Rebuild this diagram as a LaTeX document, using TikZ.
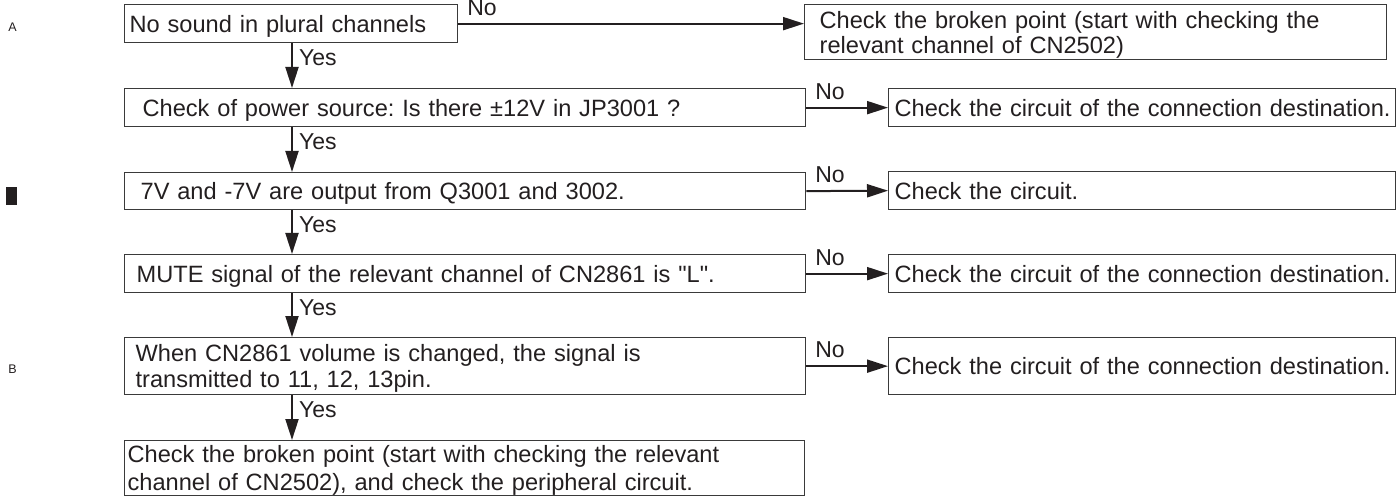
\documentclass[tikz,border=0pt]{standalone}
\usepackage{fontspec}
\setmainfont{Liberation Sans}[Ligatures=TeXOff]
\usetikzlibrary{arrows.meta}
\definecolor{ink}{HTML}{231F20}
\definecolor{edge}{HTML}{3A3A3A}
\newcommand\myln[2]{\hspace*{#1bp}\mbox{#2}}
\frenchspacing
\begin{document}
\begin{tikzpicture}[x=1bp,y=-1bp,
  box/.style={draw=edge, line width=1.3bp, anchor=north west, inner xsep=0pt, inner ysep=0pt,
    align=left, text=ink, font=\fontsize{23.6bp}{25bp}\selectfont\frenchspacing, text height=16.9bp, text depth=0bp},
  arr/.style={draw=ink, line width=2bp, -{Triangle[length=21bp,width=13bp]}},
  lbl/.style={text=ink, inner sep=0pt, font=\fontsize{23bp}{23bp}\selectfont},
  side/.style={text=ink, inner sep=0pt, font=\fontsize{12.5bp}{13bp}\selectfont},
]
\useasboundingbox (0,0) rectangle (1397,497);

% left side marks
\node[side] (markA) at (12.5,27.5) {A};
\fill[ink] (6,187) rectangle (17,205);
\node[side] (markB) at (12.5,369.5) {B};

% main column
\node[box, minimum width=333bp, minimum height=38bp, text width=333bp] (r1) at (124,4)
  {\myln{5}{No sound in plural channels}};
\node[box, minimum width=681bp, minimum height=38bp, text width=681bp] (r2) at (124,88)
  {\myln{18}{Check of power source: Is there ±12V in JP3001 ?}};
\node[box, minimum width=681bp, minimum height=37bp, text width=681bp] (r3) at (124,172)
  {\myln{16}{7V and -7V are output from Q3001 and 3002.}};
\node[box, minimum width=681bp, minimum height=38bp, text width=681bp] (r4) at (124,254)
  {\myln{12}{MUTE signal of the relevant channel of CN2861 is "L".}};
\node[box, minimum width=681bp, minimum height=57bp, text width=681bp,
  font=\fontsize{23.6bp}{26bp}\selectfont, text depth=26bp] (r5) at (124,337)
  {\myln{11}{When CN2861 volume is changed, the signal is}\\\myln{11}{transmitted to 11, 12, 13pin.}};
\node[box, minimum width=680bp, minimum height=55bp, text width=680bp,
  font=\fontsize{23.6bp}{28.5bp}\selectfont, text depth=28.5bp] (r6) at (124,440)
  {\myln{3}{Check the broken point (start with checking the relevant}\\\myln{3}{channel of CN2502), and check the peripheral circuit.}};

% right column
\node[box, minimum width=582bp, minimum height=55bp, text width=582bp, text depth=25bp] (b1) at (804,4)
  {\myln{15}{Check the broken point (start with checking the}\\\myln{15}{relevant channel of CN2502)}};
\node[box, minimum width=507bp, minimum height=38bp, text width=507bp] (b2) at (888,88)
  {\myln{6}{Check the circuit of the connection destination.}};
\node[box, minimum width=507bp, minimum height=38bp, text width=507bp] (b3) at (888,171)
  {\myln{6}{Check the circuit.}};
\node[box, minimum width=507bp, minimum height=38bp, text width=507bp] (b4) at (888,254)
  {\myln{6}{Check the circuit of the connection destination.}};
\node[box, minimum width=507bp, minimum height=57bp, text width=507bp] (b5) at (888,337)
  {\myln{6}{Check the circuit of the connection destination.}};

% Yes arrows
\coordinate (col) at (292,0);
\foreach \a/\b in {r1/r2,r2/r3,r3/r4,r4/r5,r5/r6}{
  \draw[arr] (\a.south -| col) -- (\b.north -| col)
    node[lbl, pos=0, anchor=north west, xshift=6bp, yshift=-5.5bp] {Yes};
}

% No arrows
\draw[arr] (r1.east) -- (b1.west |- r1.east)
  node[lbl, pos=0, anchor=base west, xshift=8bp, yshift=8bp] {No};
\foreach \a/\b in {r2/b2,r3/b3,r4/b4,r5/b5}{
  \draw[arr] (\a.east) -- (\b.west)
    node[lbl, pos=0, anchor=base west, xshift=8bp, yshift=8.5bp] {No};
}
\end{tikzpicture}
\end{document}
